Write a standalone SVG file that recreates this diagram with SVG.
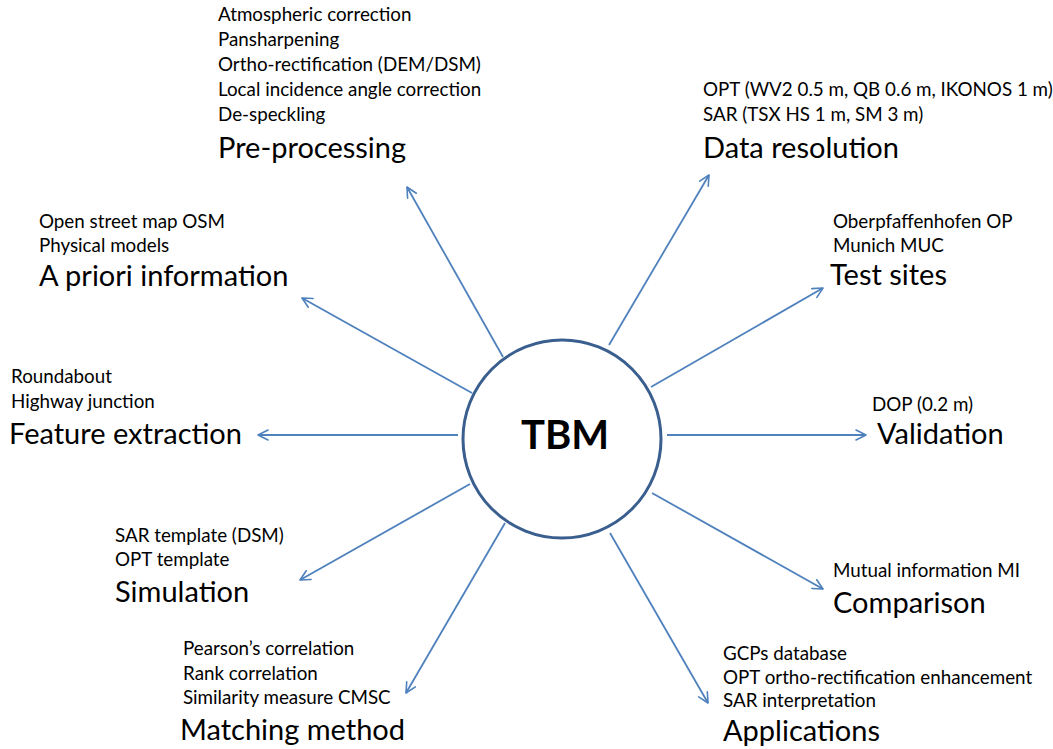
<svg xmlns="http://www.w3.org/2000/svg" width="1053" height="749" viewBox="0 0 1053 749">
  <defs>
    <marker id="open-arrow" viewBox="0 0 12 12" refX="11" refY="6" markerWidth="12" markerHeight="12" markerUnits="userSpaceOnUse" orient="auto">
      <path d="M1,1 L11,6 L1,11" fill="none" stroke="#4f81bd" stroke-width="1.6" stroke-linecap="round" stroke-linejoin="round"/>
    </marker>
    <style>
      text { font-family: Lato, "Liberation Sans", sans-serif; fill: #000; }
      .item { font-size: 18.8px; }
      .head { font-size: 29px; }
      .hub { font-size: 40px; font-weight: bold; }
      .conn { stroke: #4f81bd; stroke-width: 1.8; fill: none; marker-end: url(#open-arrow); }
    </style>
  </defs>
  <rect width="1053" height="749" fill="#ffffff"/>

  <!-- spokes from the hub out to each topic -->
  <g id="connectors">
    <line class="conn" x1="503" y1="357" x2="407" y2="187"/>
    <line class="conn" x1="609" y1="345" x2="709" y2="175"/>
    <line class="conn" x1="651" y1="387" x2="823" y2="288"/>
    <line class="conn" x1="667" y1="435" x2="866" y2="435"/>
    <line class="conn" x1="652" y1="493" x2="823" y2="589"/>
    <line class="conn" x1="610" y1="533" x2="708" y2="703"/>
    <line class="conn" x1="505" y1="523" x2="406" y2="693"/>
    <line class="conn" x1="470" y1="484" x2="300" y2="580"/>
    <line class="conn" x1="458" y1="435" x2="258" y2="435"/>
    <line class="conn" x1="472" y1="393" x2="302" y2="298"/>
  </g>

  <!-- central hub -->
  <g id="hub">
    <circle cx="562" cy="439" r="99" fill="#ffffff" stroke="#3a5f8f" stroke-width="3"/>
    <text class="hub" x="565" y="449" text-anchor="middle">TBM</text>
  </g>

  <g id="pre-processing">
    <text class="item" x="218" y="21">Atmospheric correction</text>
    <text class="item" x="218" y="46">Pansharpening</text>
    <text class="item" x="218" y="71">Ortho-rectification (DEM/DSM)</text>
    <text class="item" x="218" y="96">Local incidence angle correction</text>
    <text class="item" x="218" y="121">De-speckling</text>
    <text class="head" x="218" y="158">Pre-processing</text>
  </g>

  <g id="data-resolution">
    <text class="item" x="703" y="96">OPT (WV2 0.5 m, QB 0.6 m, IKONOS 1 m)</text>
    <text class="item" x="703" y="121">SAR (TSX HS 1 m, SM 3 m)</text>
    <text class="head" x="703" y="158">Data resolution</text>
  </g>

  <g id="test-sites">
    <text class="item" x="833" y="228">Oberpfaffenhofen OP</text>
    <text class="item" x="833" y="252">Munich MUC</text>
    <text class="head" x="830" y="285">Test sites</text>
  </g>

  <g id="validation">
    <text class="item" x="872" y="411">DOP (0.2 m)</text>
    <text class="head" x="877" y="444">Validation</text>
  </g>

  <g id="comparison">
    <text class="item" x="833" y="577">Mutual information MI</text>
    <text class="head" x="833" y="613">Comparison</text>
  </g>

  <g id="applications">
    <text class="item" x="723" y="660">GCPs database</text>
    <text class="item" x="723" y="684">OPT ortho-rectification enhancement</text>
    <text class="item" x="723" y="707">SAR interpretation</text>
    <text class="head" x="723" y="741">Applications</text>
  </g>

  <g id="matching-method">
    <text class="item" x="183" y="655">Pearson’s correlation</text>
    <text class="item" x="183" y="680">Rank correlation</text>
    <text class="item" x="183" y="704">Similarity measure CMSC</text>
    <text class="head" x="180" y="740">Matching method</text>
  </g>

  <g id="simulation">
    <text class="item" x="115" y="542">SAR template (DSM)</text>
    <text class="item" x="115" y="566">OPT template</text>
    <text class="head" x="115" y="602">Simulation</text>
  </g>

  <g id="feature-extraction">
    <text class="item" x="11" y="383">Roundabout</text>
    <text class="item" x="11" y="408">Highway junction</text>
    <text class="head" x="9" y="444">Feature extraction</text>
  </g>

  <g id="a-priori-information">
    <text class="item" x="39" y="228">Open street map OSM</text>
    <text class="item" x="39" y="252">Physical models</text>
    <text class="head" x="39" y="286">A priori information</text>
  </g>
</svg>
